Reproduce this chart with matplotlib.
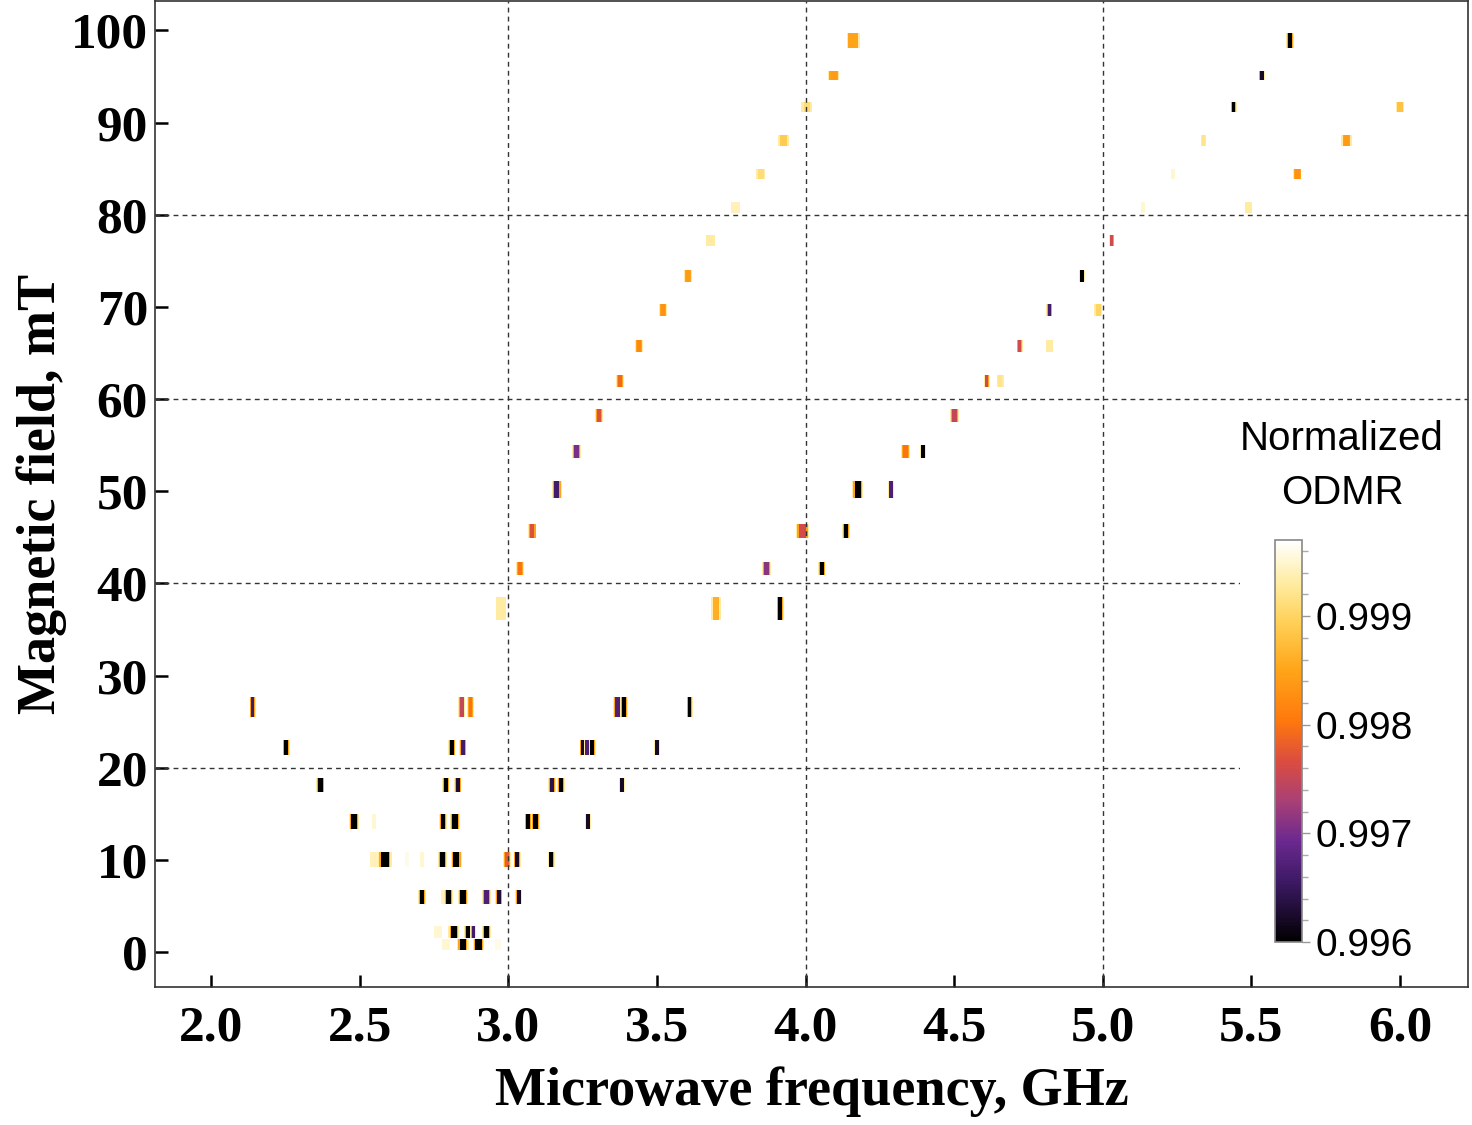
import numpy as np
import matplotlib
matplotlib.use('Agg')
import matplotlib.pyplot as plt
from matplotlib.colors import LinearSegmentedColormap, Normalize
from matplotlib.cm import ScalarMappable
from matplotlib.ticker import MultipleLocator
from matplotlib.patches import Rectangle

# ---------------- data ----------------
# field rows (mT) and their strip heights (mT)
row_B = [0.85, 2.15, 5.97, 10.03, 14.15, 18.1, 22.2, 26.6, 37.3, 41.6, 45.7, 50.2,
         54.3, 58.2, 62.0, 65.8, 69.7, 73.4, 77.2, 80.8, 84.4, 88.1, 91.7, 95.1, 98.9]
row_h = [1.2, 1.3, 1.5, 1.6, 1.6, 1.5, 1.6, 2.2, 2.5, 1.4, 1.5, 1.8,
         1.4, 1.4, 1.3, 1.3, 1.3, 1.3, 1.2, 1.1, 1.1, 1.2, 1.0, 1.0, 1.7]

# ODMR dips: row index, frequency (GHz), minimum normalized ODMR, full width (GHz)
dip_row = [0, 0, 0, 0,
           1, 1, 1, 1, 1,
           2, 2, 2, 2, 2, 2, 2,
           3, 3, 3, 3, 3, 3, 3, 3, 3,
           4, 4, 4, 4, 4, 4, 4,
           5, 5, 5, 5, 5, 5,
           6, 6, 6, 6, 6, 6, 6,
           7, 7, 7, 7, 7, 7,
           8, 8, 8,
           9, 9, 9,
           10, 10, 10,
           11, 11, 11,
           12, 12, 12,
           13, 13,
           14, 14, 14,
           15, 15, 15,
           16, 16, 16,
           17, 17,
           18, 18,
           19, 19, 19,
           20, 20, 20,
           21, 21, 21,
           22, 22, 22,
           23, 23,
           24, 24]
dip_freq = [2.790, 2.847, 2.900, 2.965,
            2.763, 2.817, 2.865, 2.882, 2.928,
            2.709, 2.785, 2.800, 2.847, 2.928, 2.968, 3.035,
            2.555, 2.585, 2.660, 2.710, 2.780, 2.825, 2.995, 3.030, 3.145,
            2.481, 2.548, 2.780, 2.820, 3.067, 3.093, 3.268,
            2.368, 2.790, 2.830, 3.147, 3.177, 3.383,
            2.253, 2.810, 2.847, 3.252, 3.265, 3.283, 3.500,
            2.140, 2.843, 2.873, 3.367, 3.390, 3.610,
            2.975, 3.700, 3.915,
            3.040, 3.870, 4.055,
            3.080, 3.990, 4.137,
            3.163, 4.175, 4.288,
            3.230, 4.335, 4.395,
            3.305, 4.500,
            3.375, 4.610, 4.655,
            3.440, 4.720, 4.820,
            3.520, 4.820, 4.985,
            3.605, 4.930,
            3.680, 5.030,
            3.765, 5.135, 5.490,
            3.850, 5.235, 5.655,
            3.925, 5.340, 5.820,
            4.005, 5.440, 6.000,
            4.095, 5.535,
            4.160, 5.630]
dip_val = [0.9995, 0.9960, 0.9960, 0.9996,
           0.9995, 0.9960, 0.9960, 0.9966, 0.9960,
           0.9960, 0.9994, 0.9960, 0.9960, 0.9967, 0.9963, 0.9962,
           0.9994, 0.9960, 0.9996, 0.9995, 0.9960, 0.9960, 0.9978, 0.9962, 0.9960,
           0.9960, 0.9995, 0.9960, 0.9960, 0.9960, 0.9960, 0.9962,
           0.9960, 0.9960, 0.9963, 0.9964, 0.9960, 0.9962,
           0.9960, 0.9960, 0.9966, 0.9962, 0.9967, 0.9960, 0.9962,
           0.9966, 0.9975, 0.9980, 0.9967, 0.9960, 0.9960,
           0.9993, 0.9986, 0.9960,
           0.9980, 0.9971, 0.9960,
           0.9977, 0.9976, 0.9960,
           0.9966, 0.9960, 0.9967,
           0.9970, 0.9980, 0.9960,
           0.9977, 0.9975,
           0.9979, 0.9976, 0.9992,
           0.9982, 0.9976, 0.9993,
           0.9983, 0.9966, 0.9990,
           0.9984, 0.9960,
           0.9993, 0.9976,
           0.9994, 0.9995, 0.9993,
           0.9991, 0.9995, 0.9983,
           0.9989, 0.9992, 0.9984,
           0.9991, 0.9960, 0.9988,
           0.9984, 0.9962,
           0.9985, 0.9960]
dip_width = [0.027, 0.040, 0.040, 0.020,
             0.027, 0.037, 0.027, 0.020, 0.030,
             0.027, 0.020, 0.030, 0.034, 0.030, 0.024, 0.024,
             0.040, 0.047, 0.013, 0.013, 0.030, 0.037, 0.027, 0.024, 0.024,
             0.034, 0.013, 0.027, 0.034, 0.024, 0.030, 0.020,
             0.027, 0.024, 0.024, 0.027, 0.027, 0.020,
             0.024, 0.024, 0.024, 0.024, 0.020, 0.024, 0.020,
             0.020, 0.024, 0.024, 0.027, 0.024, 0.020,
             0.034, 0.034, 0.024,
             0.027, 0.030, 0.024,
             0.030, 0.044, 0.027,
             0.034, 0.037, 0.020,
             0.030, 0.030, 0.020,
             0.027, 0.030,
             0.027, 0.020, 0.024,
             0.027, 0.020, 0.024,
             0.027, 0.020, 0.027,
             0.027, 0.020,
             0.030, 0.017,
             0.030, 0.013, 0.024,
             0.030, 0.013, 0.027,
             0.037, 0.017, 0.034,
             0.037, 0.020, 0.030,
             0.037, 0.022,
             0.044, 0.026]

grid_x = [3.0, 4.0, 5.0]
grid_y = [20, 40, 60, 80]
x_ticks = [2.0, 2.5, 3.0, 3.5, 4.0, 4.5, 5.0, 5.5, 6.0]
y_ticks = [0, 10, 20, 30, 40, 50, 60, 70, 80, 90, 100]
cb_ticks = [0.996, 0.997, 0.998, 0.999]
vmin, vmax = 0.996, 0.9997

# ---------------- style ----------------
plt.rcParams['font.family'] = ['Liberation Serif', 'DejaVu Serif']

cmap = LinearSegmentedColormap.from_list('sunset', [
    (0.00, (0.00, 0.00, 0.00)),
    (0.15, (0.24, 0.10, 0.40)),
    (0.25, (0.42, 0.16, 0.56)),
    (0.35, (0.66, 0.25, 0.46)),
    (0.45, (0.86, 0.30, 0.25)),
    (0.55, (1.00, 0.47, 0.05)),
    (0.68, (1.00, 0.65, 0.10)),
    (0.80, (1.00, 0.82, 0.35)),
    (0.90, (1.00, 0.93, 0.65)),
    (1.00, (1.00, 1.00, 1.00)),
])
norm = Normalize(vmin=vmin, vmax=vmax)

W, H = 1472, 1125
fig = plt.figure(figsize=(W / 100, H / 100), dpi=100)
ax = fig.add_axes([155 / W, 1 - 987 / H, (1468 - 155) / W, (987 - 1) / H])

# build layered bars (outer halo, orange ring, core)
bx, bw, bb, bh, bc = [], [], [], [], []
for r, f, v, w in zip(dip_row, dip_freq, dip_val, dip_width):
    B, h = row_B[r], row_h[r]
    layers = []
    if v < 0.9993:
        layers.append((w, 0.9993))
        if v < 0.9986:
            layers.append((0.78 * w, 0.9985))
            layers.append((0.55 * w, v))
        else:
            layers.append((0.62 * w, v))
    else:
        layers.append((w, v))
    for lw_, lv in layers:
        bx.append(f)
        bw.append(lw_)
        bb.append(B - h / 2)
        bh.append(h)
        bc.append(cmap(norm(lv)))
ax.bar(bx, bh, width=bw, bottom=bb, color=bc, linewidth=0, zorder=2)

for gx in grid_x:
    ax.axvline(gx, color='#333333', lw=1.0, ls=(0, (3.5, 3)), zorder=3)
for gy in grid_y:
    ax.axhline(gy, color='#333333', lw=1.0, ls=(0, (3.5, 3)), zorder=3)

# white panel behind colorbar legend
ax.add_patch(Rectangle((0.826, 0.02), 0.18, 0.565, transform=ax.transAxes,
                       facecolor='white', edgecolor='none', zorder=4,
                       clip_on=True))

ax.set_xlim(1.8116, 6.2287)
ax.set_ylim(-3.78, 103.2)
ax.set_xticks(x_ticks)
ax.set_yticks(y_ticks)
ax.set_xticklabels([f'{t:.1f}' for t in x_ticks])
ax.set_yticklabels([str(t) for t in y_ticks])
ax.tick_params(direction='in', length=9, width=1.8, color='black', pad=5,
               labelsize=37)
ax.tick_params(axis='x', pad=13)
for lab in ax.get_xticklabels() + ax.get_yticklabels():
    lab.set_fontweight('bold')
for s in ax.spines.values():
    s.set_color('#333333')
    s.set_linewidth(1.2)
    s.set_zorder(5)

ax.set_xlabel('Microwave frequency, GHz', fontsize=39, fontweight='bold', labelpad=11)
ax.set_ylabel('Magnetic field, mT', fontsize=39, fontweight='bold', labelpad=3)

# colorbar
cax = fig.add_axes([1275 / W, 1 - 942 / H, 27 / W, 402 / H])
sm = ScalarMappable(norm=norm, cmap=cmap)
cb = fig.colorbar(sm, cax=cax)
cb.set_ticks(cb_ticks)
cb.set_ticklabels([f'{t:.3f}' for t in cb_ticks])
cb.ax.yaxis.set_minor_locator(MultipleLocator(0.0002))
cb.ax.tick_params(which='major', length=6, width=1, color='#999999', pad=4,
                  labelsize=28)
cb.ax.tick_params(which='minor', length=4, width=1, color='#aaaaaa')
for lab in cb.ax.get_yticklabels():
    lab.set_family(['Liberation Sans', 'DejaVu Sans'])
cb.outline.set_edgecolor('#888888')
cb.outline.set_linewidth(1.2)

fig.text(1342 / W, 1 - 466 / H, 'Normalized\nODMR', ha='center', va='center',
         multialignment='center', fontsize=29, linespacing=1.55,
         family=['Liberation Sans', 'DejaVu Sans'])

fig.savefig('out.png', dpi=100)
